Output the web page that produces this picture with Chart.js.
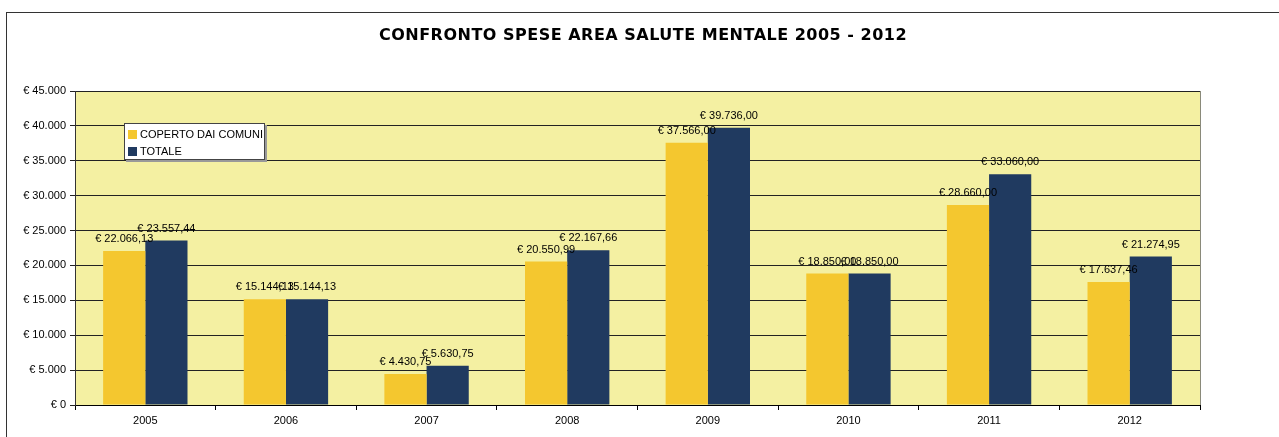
<!DOCTYPE html>
<html>
<head>
<meta charset="utf-8">
<script src="https://cdn.jsdelivr.net/npm/chart.js@4.4.1/dist/chart.umd.min.js"></script>
<style>
  html, body { margin: 0; padding: 0; background: #fff; }
  #wrap { position: relative; width: 1279px; height: 437px; overflow: hidden; }
  #frame { position: absolute; left: 6px; top: 12px; width: 1400px; height: 500px;
           border-top: 1px solid #333; border-left: 1px solid #333; }
  #title { position: absolute; left: 0; width: 1286px; top: 25px; text-align: center;
           font: bold 16px "DejaVu Sans", Verdana, sans-serif; letter-spacing: 0.5px; color: #000; }
  #legend { position: absolute; left: 124px; top: 123px; width: 139px; height: 35px;
            background: #fff; border: 1px solid #444; box-shadow: 2px 2px 0 #999;
            font: 11px "Liberation Sans", Arial, sans-serif; color: #000; }
  #legend div { position: absolute; left: 3px; height: 14px; line-height: 14px; white-space: nowrap; }
  #legend span { display: inline-block; width: 9px; height: 9px; margin-right: 3px; vertical-align: -1px; }
  canvas { position: absolute; left: 0; top: 0; }
</style>
</head>
<body>
<div id="wrap">
  <div id="frame"></div>
  <canvas id="c" width="1279" height="437"></canvas>
  <div id="title">CONFRONTO SPESE AREA SALUTE MENTALE 2005 - 2012</div>
  <div id="legend">
    <div style="top:3px"><span style="background:#F4C72F"></span>COPERTO DAI COMUNI</div>
    <div style="top:20px"><span style="background:#203A60"></span>TOTALE</div>
  </div>
</div>
<script>
// dati
const anni = ['2005', '2006', '2007', '2008', '2009', '2010', '2011', '2012'];
const copertoDaiComuni = [22066.13, 15144.13, 4430.75, 20550.99, 37566.00, 18850.00, 28660.00, 17637.46];
const totale = [23557.44, 15144.13, 5630.75, 22167.66, 39736.00, 18850.00, 33060.00, 21274.95];

// formato italiano: 22.066,13
function euro(v, dec) {
    const parts = v.toFixed(dec).split('.');
    const intPart = parts[0].replace(/\B(?=(\d{3})+(?!\d))/g, '.');
    return '€ ' + intPart + (dec ? ',' + parts[1] : '');
}

// sfondo area del grafico + bordo destro
const plotBg = {
    id: 'plotBg',
    beforeDraw(chart) {
        const { ctx, chartArea: a } = chart;
        ctx.save();
        ctx.fillStyle = '#F4F0A2';
        ctx.fillRect(a.left, a.top, a.right - a.left, a.bottom - a.top);
        ctx.restore();
    },
    afterDraw(chart) {
        const { ctx, chartArea: a } = chart;
        ctx.save();
        ctx.strokeStyle = '#8a8a7a';
        ctx.lineWidth = 1;
        ctx.beginPath();
        ctx.moveTo(a.right + 0.5, a.top);
        ctx.lineTo(a.right + 0.5, a.bottom);
        ctx.stroke();
        ctx.restore();
    }
};

// etichette valori sopra le barre
const valueLabels = {
    id: 'valueLabels',
    afterDatasetsDraw(chart) {
        const ctx = chart.ctx;
        ctx.save();
        ctx.font = '11px "Liberation Sans", Arial, sans-serif';
        ctx.fillStyle = '#000';
        ctx.textAlign = 'center';
        ctx.textBaseline = 'middle';
        chart.data.datasets.forEach((ds, i) => {
            chart.getDatasetMeta(i).data.forEach((bar, j) => {
                ctx.fillText(euro(ds.data[j], 2), bar.x, bar.y - 12);
            });
        });
        ctx.restore();
    }
};

new Chart(document.getElementById('c'), {
    type: 'bar',
    data: {
        labels: anni,
        datasets: [
            { label: 'COPERTO DAI COMUNI', data: copertoDaiComuni, backgroundColor: '#F4C72F' },
            { label: 'TOTALE', data: totale, backgroundColor: '#203A60' }
        ]
    },
    options: {
        responsive: false,
        animation: false,
        devicePixelRatio: 1,
        layout: { padding: { left: 0, right: 79, top: 91, bottom: 0 } },
        datasets: { bar: { barPercentage: 1.0, categoryPercentage: 0.6 } },
        plugins: {
            legend: { display: false },
            title: { display: false },
            tooltip: { enabled: false }
        },
        scales: {
            x: {
                offset: true,
                grid: { offset: true, drawOnChartArea: false, color: '#000', tickLength: 5 },
                border: { color: '#000' },
                ticks: { color: '#000', padding: 4, font: { family: '"Liberation Sans", Arial, sans-serif', size: 11 } },
                afterFit(scale) { scale.height = 32; }
            },
            y: {
                min: 0,
                max: 45000,
                ticks: {
                    stepSize: 5000,
                    color: '#000',
                    padding: 4,
                    font: { family: '"Liberation Sans", Arial, sans-serif', size: 11 },
                    callback: v => euro(v, 0)
                },
                grid: { color: '#222', tickLength: 5 },
                border: { color: '#333' },
                afterFit(scale) { scale.width = 75; }
            }
        }
    },
    plugins: [plotBg, valueLabels]
});
</script>
</body>
</html>
